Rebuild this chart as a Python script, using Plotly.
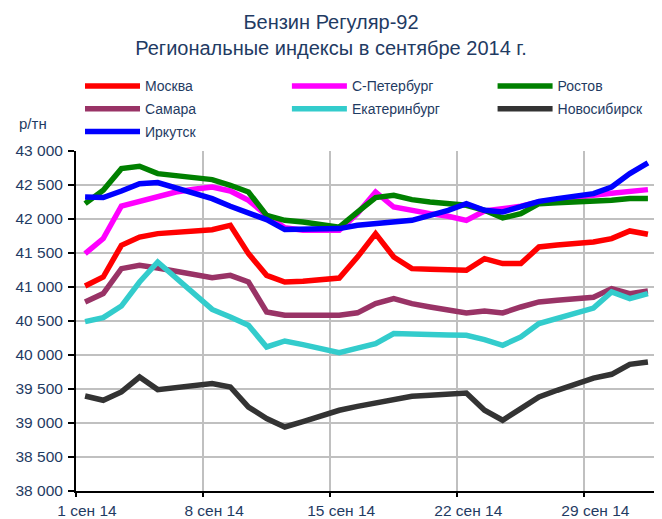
import pandas as pd
import plotly.graph_objects as go

dates = pd.date_range("2014-09-01", "2014-10-02", freq="D")

moscow = [41015, 41147, 41613, 41735, 41785, 41800, 41819, 41843, 41907, 41491,
          41172, 41074, 41083, 41100, 41132, 41440, 41785, 41441, 41270, 41260,
          41255, 41245, 41417, 41344, 41344, 41589, 41618, 41638, 41662, 41712,
          41824, 41775]
spb = [41491, 41712, 42191, 42260, 42349, 42397, 42437, 42471, 42412, 42275,
       42054, 41870, 41834, 41834, 41834, 42080, 42397, 42176, 42118, 42079,
       42040, 41980, 42118, 42153, 42187, 42250, 42290, 42320, 42350, 42380,
       42410, 42432]
rostov = [42226, 42422, 42741, 42775, 42667, 42643, 42618, 42579, 42496, 42397,
          42054, 41980, 41956, 41922, 41880, 42100, 42315, 42349, 42285, 42250,
          42226, 42201, 42128, 42015, 42079, 42226, 42240, 42250, 42250, 42275,
          42300, 42300]
samara = [40780, 40903, 41270, 41319, 41279, 41235, 41187, 41138, 41172, 41074,
          40632, 40584, 40584, 40584, 40584, 40620, 40755, 40829, 40755, 40706,
          40657, 40618, 40647, 40618, 40706, 40780, 40804, 40829, 40850, 40976,
          40903, 40941]
ekb = [40490, 40550, 40720, 41074, 41368, 41130, 40900, 40670, 40559, 40437,
       40118, 40206, 40153, 40094, 40035, 40100, 40168, 40315, 40315, 40300,
       40295, 40290, 40227, 40143, 40265, 40462, 40535, 40608, 40690, 40927,
       40829, 40903]
novosib = [39397, 39334, 39456, 39676, 39491, 39515, 39540, 39579, 39530, 39235,
           39065, 38941, 39020, 39103, 39187, 39245, 39294, 39334, 39393, 39407,
           39422, 39441, 39187, 39040, 39212, 39383, 39481, 39579, 39661, 39716,
           39863, 39897]
irkutsk = [42324, 42315, 42412, 42520, 42535, 42462, 42374, 42300, 42187, 42079,
           41991, 41844, 41844, 41848, 41859, 41907, 41932, 41956, 41980, 42054,
           42128, 42226, 42128, 42103, 42176, 42260, 42300, 42334, 42373, 42471,
           42667, 42824]

series_names = ["Москва", "С-Петербург", "Ростов", "Самара", "Екатеринбург",
                "Новосибирск", "Иркутск"]
series_values = [moscow, spb, rostov, samara, ekb, novosib, irkutsk]
colors = ["#FF0000", "#FF00FF", "#008000", "#993366", "#33CCCC", "#333333", "#0000FF"]
legend_column = ["legend", "legend2", "legend3", "legend", "legend2", "legend3", "legend"]

tick_dates = ["2014-09-01", "2014-09-08", "2014-09-15", "2014-09-22", "2014-09-29"]
tick_labels = ["1 сен 14", "8 сен 14", "15 сен 14", "22 сен 14", "29 сен 14"]
y_ticks = [38000, 38500, 39000, 39500, 40000, 40500, 41000, 41500, 42000, 42500, 43000]

TEXT = "#1F3B63"
FONT = "Liberation Sans, Arial, sans-serif"

fig = go.Figure()
for name, vals, col, lg in zip(series_names, series_values, colors, legend_column):
    fig.add_trace(go.Scatter(x=dates, y=vals, name=name, mode="lines",
                             legend=lg, legendgroup=name,
                             line=dict(color=col, width=5.5)))

half_day = pd.Timedelta(hours=12)
tickvals = [pd.Timestamp(d) - half_day for d in tick_dates]

legend_common = dict(orientation="v", xanchor="left", y=1.237, yanchor="top",
                     itemwidth=55, font=dict(size=14, color=TEXT, family=FONT),
                     bgcolor="rgba(0,0,0,0)", tracegroupgap=1.5)

# The page body has an 8px default margin, so the figure is sized to fill the
# remaining window area.
fig.update_layout(
    width=654, height=511,
    margin=dict(l=68, r=5, t=143, b=28, autoexpand=False),
    paper_bgcolor="white", plot_bgcolor="white",
    separators=", ",
    font=dict(family=FONT, color=TEXT),
    title=dict(text="Бензин Регуляр-92<br>Региональные индексы в сентябре 2014 г.",
               x=0.4939, xanchor="center", y=0.958, yanchor="top",
               font=dict(size=20, color=TEXT, family=FONT)),
    legend=dict(x=0.0069, **legend_common),
    legend2=dict(x=0.363, **legend_common),
    legend3=dict(x=0.717, **legend_common),
    showlegend=True,
)
fig.update_xaxes(
    range=[dates[0] - half_day, dates[-1] + half_day],
    tickvals=tickvals, ticktext=tick_labels, ticklabelshift=11, ticklabelstandoff=0,
    showgrid=True, gridcolor="#C0C0C0", gridwidth=2,
    showline=True, linecolor="black", linewidth=2,
    ticks="outside", ticklen=4, tickwidth=2, tickcolor="black",
    tickfont=dict(size=15.5, color=TEXT), zeroline=False,
)
fig.update_yaxes(
    range=[38000, 43000], tickvals=y_ticks, tickformat=",d", ticklabelstandoff=2,
    showgrid=True, gridcolor="#C0C0C0", gridwidth=2,
    showline=True, linecolor="black", linewidth=2,
    ticks="outside", ticklen=6, tickwidth=2, tickcolor="black",
    tickfont=dict(size=15.5, color=TEXT), zeroline=False,
)
fig.add_annotation(text="р/тн", xref="paper", yref="paper",
                   x=-0.102, y=1.082, xanchor="left", yanchor="middle",
                   showarrow=False, font=dict(size=15, color=TEXT))

fig.write_html("out.html")
